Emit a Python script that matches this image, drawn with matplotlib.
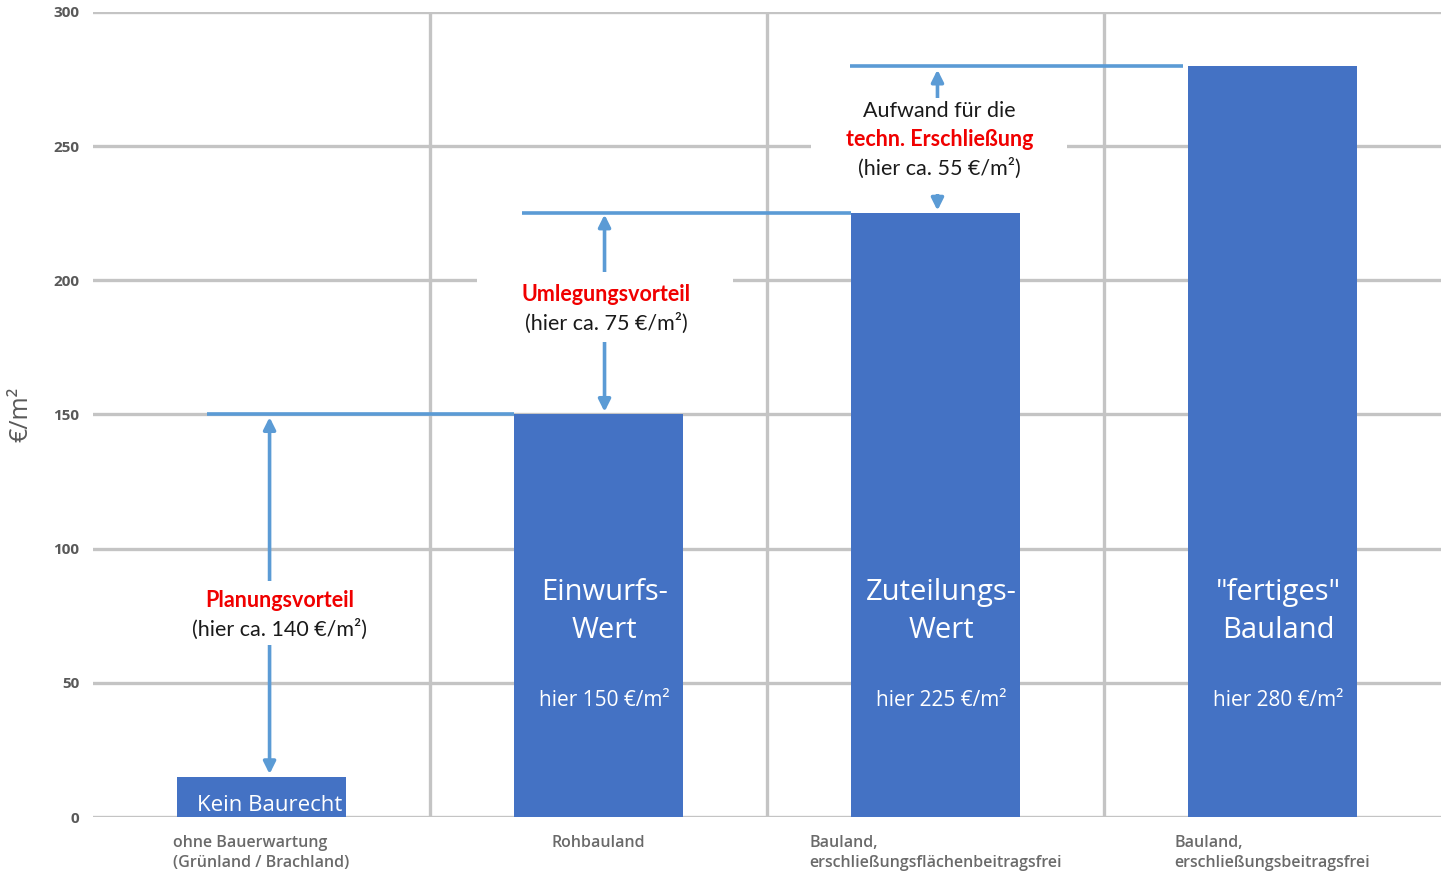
import matplotlib.pyplot as plt
from matplotlib.patches import Rectangle

# Bodenwerte je Entwicklungsstufe
kategorien = ['ohne Bauerwartung\n(Grünland / Brachland)', 'Rohbauland',
              'Bauland,\nerschließungsflächenbeitragsfrei',
              'Bauland,\nerschließungsbeitragsfrei']
werte = [15, 150, 225, 280]
balken_titel = ['', 'Einwurfs-\nWert', 'Zuteilungs-\nWert', '"fertiges"\nBauland']
balken_wert = ['', 'hier 150 €/m²', 'hier 225 €/m²', 'hier 280 €/m²']

BLAU = '#4472C4'
PFEIL = '#5B9BD5'
GRID = '#c4c4c4'
ROT = '#f00000'

fig = plt.figure(figsize=(14.46, 8.74), dpi=100)
ax = fig.add_axes([0.0643, 0.0652, 0.9322, 0.9211])

x = list(range(len(werte)))
ax.bar(x, werte, width=0.5, color=BLAU, zorder=3)

ax.set_xlim(-0.5, 3.5)
ax.set_ylim(0, 300)
for s in ax.spines.values():
    s.set_visible(False)

# Gitter
for yv in range(0, 301, 50):
    ax.axhline(yv, color=GRID, lw=2.4, zorder=1)
for xv in [0.5, 1.5, 2.5]:
    ax.axvline(xv, color=GRID, lw=2.4, zorder=1)

ax.set_yticks(range(0, 301, 50))
ax.tick_params(length=0, pad=10)
ax.set_yticklabels([str(v) for v in range(0, 301, 50)], fontsize=11,
                   color='#595959', fontweight='bold', family='Open Sans')
ax.set_xticks(x)
ax.set_xticklabels(kategorien, fontsize=11.5, color='#6a6a6a', family='Open Sans',
                   fontweight='semibold', multialignment='left', va='top',
                   linespacing=1.35)
ax.tick_params(axis='x', pad=13)
ax.set_ylabel('€/m²', fontsize=18, color='#595959', family='Open Sans', labelpad=14)

# Texte in den Balken
for i in x:
    if balken_titel[i]:
        ax.text(i + 0.018, 76.5, balken_titel[i], ha='center', va='center', color='white',
                fontsize=21, family='Open Sans', linespacing=1.4, zorder=5)
        ax.text(i + 0.018, 43.5, balken_wert[i], ha='center', va='center', color='white',
                fontsize=15, family='Open Sans', zorder=5)
ax.text(0.024, 4.3, 'Kein Baurecht', ha='center', va='center', color='white',
        fontsize=16, family='Open Sans', zorder=5)

# Verbindungslinien auf Balkenhöhe
ax.plot([-0.163, 0.75], [werte[1], werte[1]], color=PFEIL, lw=2.6, zorder=4,
        solid_capstyle='butt')
ax.plot([0.774, 1.75], [werte[2], werte[2]], color=PFEIL, lw=2.6, zorder=4,
        solid_capstyle='butt')
ax.plot([1.745, 2.735], [werte[3], werte[3]], color=PFEIL, lw=2.6, zorder=4,
        solid_capstyle='butt')


def pfeil(xp, y0, y1):
    ax.annotate('', xy=(xp, y1), xytext=(xp, y0), zorder=4,
                arrowprops=dict(arrowstyle='<|-|>', color=PFEIL, lw=2.6,
                                mutation_scale=18, shrinkA=0, shrinkB=0))


def weiss(x0, x1, y0, y1):
    ax.add_patch(Rectangle((x0, y0), x1 - x0, y1 - y0, facecolor='white',
                           edgecolor='none', zorder=4.5))


pfeil(0.024, werte[0] + 1, werte[1] - 1)
pfeil(1.018, werte[1] + 1, werte[2] - 0.5)
pfeil(2.006, werte[2] + 1, werte[3] - 1.5)

weiss(-0.25, 0.35, 64, 88)
weiss(0.64, 1.40, 177, 203)
weiss(1.63, 2.39, 232, 268)

txt = dict(ha='center', va='center', family='Lato', fontsize=15.5, zorder=6)
ax.text(0.053, 80.5, 'Planungsvorteil', color=ROT, fontweight='bold', **txt)
ax.text(0.053, 70, '(hier ca. 140 €/m²)', color='#1a1a1a', **txt)
ax.text(1.024, 194.6, 'Umlegungsvorteil', color=ROT, fontweight='bold', **txt)
ax.text(1.024, 184, '(hier ca. 75 €/m²)', color='#1a1a1a', **txt)
ax.text(2.012, 263, 'Aufwand für die', color='#1a1a1a', **txt)
ax.text(2.012, 252.3, 'techn. Erschließung', color=ROT, fontweight='bold', **txt)
ax.text(2.012, 241.9, '(hier ca. 55 €/m²)', color='#1a1a1a', **txt)

fig.savefig('out.png', dpi=100)
